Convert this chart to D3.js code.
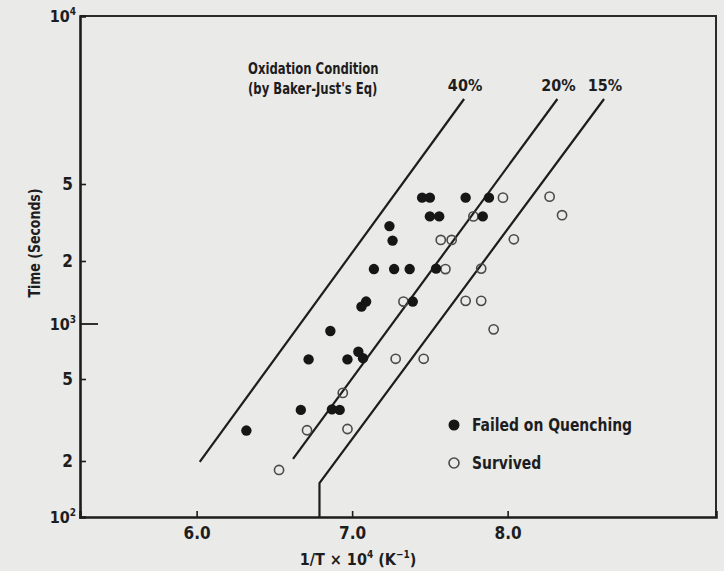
<!DOCTYPE html>
<html>
<head>
<meta charset="utf-8">
<script src="https://cdn.jsdelivr.net/npm/d3@7"></script>
<style>
  html, body { margin: 0; padding: 0; background: #eaeae8; }
  svg { display: block; }
  text {
    font-family: "Liberation Sans Narrow", "DejaVu Sans Condensed", "Roboto", sans-serif;
    font-weight: bold;
    fill: #1d1d1d;
  }
</style>
</head>
<body>
<svg id="chart" width="724" height="571"></svg>
<script>
// Quench specimens: 1/T x 10^4 (K^-1) against oxidation time (s)
const failedX = [7.45, 7.50, 7.73, 7.88, 7.50, 7.56, 7.84, 7.24, 7.26, 7.14, 7.27, 7.37,
                 7.54, 7.39, 7.09, 7.06, 6.86, 7.04, 7.07, 6.72, 6.97, 6.67, 6.87, 6.92, 6.32];
const failedY = [4250, 4250, 4250, 4250, 3400, 3400, 3400, 3030, 2550, 1830, 1830, 1830,
                 1840, 1280, 1280, 1210, 915, 705, 650, 640, 640, 354, 356, 354, 281];

const survivedX = [7.97, 8.27, 8.35, 7.78, 7.57, 7.64, 8.04, 7.60, 7.83, 7.33, 7.73, 7.83,
                   7.91, 7.28, 7.46, 6.94, 6.71, 6.97, 6.53];
const survivedY = [4250, 4300, 3450, 3400, 2570, 2570, 2590, 1830, 1840, 1280, 1290, 1290,
                   935, 645, 645, 428, 282, 286, 179];

// Baker-Just oxidation limits (start / end of each line)
const lineNames = ["40%", "20%", "15%"];
const lineX = [[6.02, 7.72], [6.62, 8.32], [6.79, 6.79, 8.62]];
const lineY = [[198, 7100], [205, 7100], [100, 152, 7100]];

// Axis ticks
const xTicks = [6.0, 7.0, 8.0];
const yMinorTicks = [200, 500, 2000, 5000];
const yDecades = [100, 1000, 10000];
const yDecadeExp = ["2", "3", "4"];

const svg = d3.select("#chart");
const L = 80, R = 716, T = 16, B = 517;

const x = d3.scaleLinear().domain([5.25, 9.34]).range([L, R]);
// graph paper log scale, decade spacing as printed on the sheet
const y = d3.scaleLog()
  .domain([100, 200, 500, 1000, 2000, 5000, 10000])
  .range([B, 461, 379, 324, 261, 184, T]);

const ink = "#1d1d1d";

// squeeze a label horizontally to a condensed face
function condense(sel, k) {
  sel.each(function () {
    const w = this.getComputedTextLength();
    d3.select(this).attr("textLength", w * k).attr("lengthAdjust", "spacingAndGlyphs");
  });
}

// frame
svg.append("path")
  .attr("d", `M${L},${T}H${R}V${B}`)
  .attr("fill", "none").attr("stroke", "#2a2a2a").attr("stroke-width", 2);

// x axis
const xAxis = d3.axisBottom(x).tickValues(xTicks).tickSize(-6).tickPadding(10)
  .tickFormat(d3.format(".1f"));
const gx = svg.append("g").attr("transform", `translate(0,${B})`).call(xAxis);
gx.select(".domain").attr("stroke", ink).attr("stroke-width", 2.6);
gx.selectAll(".tick line").attr("stroke", ink).attr("stroke-width", 1.6);
gx.selectAll(".tick text").attr("font-size", 17).attr("fill", ink);

// y axis
const yAxis = d3.axisLeft(y).tickValues(yMinorTicks).tickSize(-6).tickPadding(7)
  .tickFormat(d => String(d).charAt(0));
const gy = svg.append("g").attr("transform", `translate(${L},0)`).call(yAxis);
gy.select(".domain").attr("stroke", ink).attr("stroke-width", 2.6);
gy.selectAll(".tick line").attr("stroke", ink).attr("stroke-width", 1.6);
gy.selectAll(".tick text").attr("font-size", 17).attr("fill", ink);

// decade labels as 10 with superscript exponent
yDecades.forEach((v, i) => {
  if (v === 1000) {
    svg.append("line")
      .attr("x1", L).attr("x2", L + 18)
      .attr("y1", y(v)).attr("y2", y(v))
      .attr("stroke", ink).attr("stroke-width", 1.8);
  }
  const t = svg.append("text")
    .attr("x", L - 4).attr("y", y(v) + 6)
    .attr("text-anchor", "end")
    .attr("font-size", 16);
  t.append("tspan").text("10");
  t.append("tspan").attr("font-size", 10).attr("dy", -7).text(yDecadeExp[i]);
});

// axis titles
svg.append("text")
  .attr("transform", `translate(34,243) rotate(-90)`)
  .attr("text-anchor", "middle")
  .attr("dominant-baseline", "central")
  .attr("font-size", 16)
  .text("Time (Seconds)")
  .call(condense, 0.87);

const xt = svg.append("text")
  .attr("x", 358).attr("y", 565)
  .attr("text-anchor", "middle")
  .attr("font-size", 16);
xt.append("tspan").text("1/T \u00d7 10");
xt.append("tspan").attr("font-size", 10).attr("dy", -7).text("4");
xt.append("tspan").attr("dy", 7).text(" (K");
xt.append("tspan").attr("font-size", 10).attr("dy", -7).text("\u22121");
xt.append("tspan").attr("dy", 7).text(")");

// oxidation limit lines
const lineGen = d3.line().x(d => x(d[0])).y(d => y(d[1]));
lineNames.forEach((name, i) => {
  const pts = lineX[i].map((v, j) => [v, lineY[i][j]]);
  svg.append("path")
    .attr("d", lineGen(pts))
    .attr("fill", "none")
    .attr("stroke", ink)
    .attr("stroke-width", 2.2);
  const top = pts[pts.length - 1];
  svg.append("text")
    .attr("x", x(top[0]) + 1).attr("y", y(top[1]) - 8)
    .attr("text-anchor", "middle")
    .attr("font-size", 16)
    .text(name);
});

svg.append("text").attr("x", 248).attr("y", 74).attr("font-size", 16)
  .text("Oxidation Condition").call(condense, 0.81);
svg.append("text").attr("x", 248).attr("y", 94).attr("font-size", 16)
  .text("(by Baker-Just's Eq)").call(condense, 0.81);

// specimens
const survived = survivedX.map((v, i) => [v, survivedY[i]]);
const failed = failedX.map((v, i) => [v, failedY[i]]);

svg.append("g").selectAll("circle").data(survived).join("circle")
  .attr("cx", d => x(d[0])).attr("cy", d => y(d[1]))
  .attr("r", 4.6)
  .attr("fill", "none")
  .attr("stroke", "#4a4a4a")
  .attr("stroke-width", 1.6);

svg.append("g").selectAll("circle").data(failed).join("circle")
  .attr("cx", d => x(d[0])).attr("cy", d => y(d[1]))
  .attr("r", 5.2)
  .attr("fill", "#161616");

// legend
const legend = svg.append("g").attr("transform", "translate(454,425)");
legend.append("circle").attr("r", 5.5).attr("fill", "#161616");
legend.append("text").attr("x", 18).attr("y", 6).attr("font-size", 18)
  .text("Failed on Quenching").call(condense, 0.86);
legend.append("circle").attr("cy", 38).attr("r", 5)
  .attr("fill", "none").attr("stroke", "#4a4a4a").attr("stroke-width", 1.6);
legend.append("text").attr("x", 18).attr("y", 44).attr("font-size", 18)
  .text("Survived").call(condense, 0.86);
</script>
</body>
</html>
